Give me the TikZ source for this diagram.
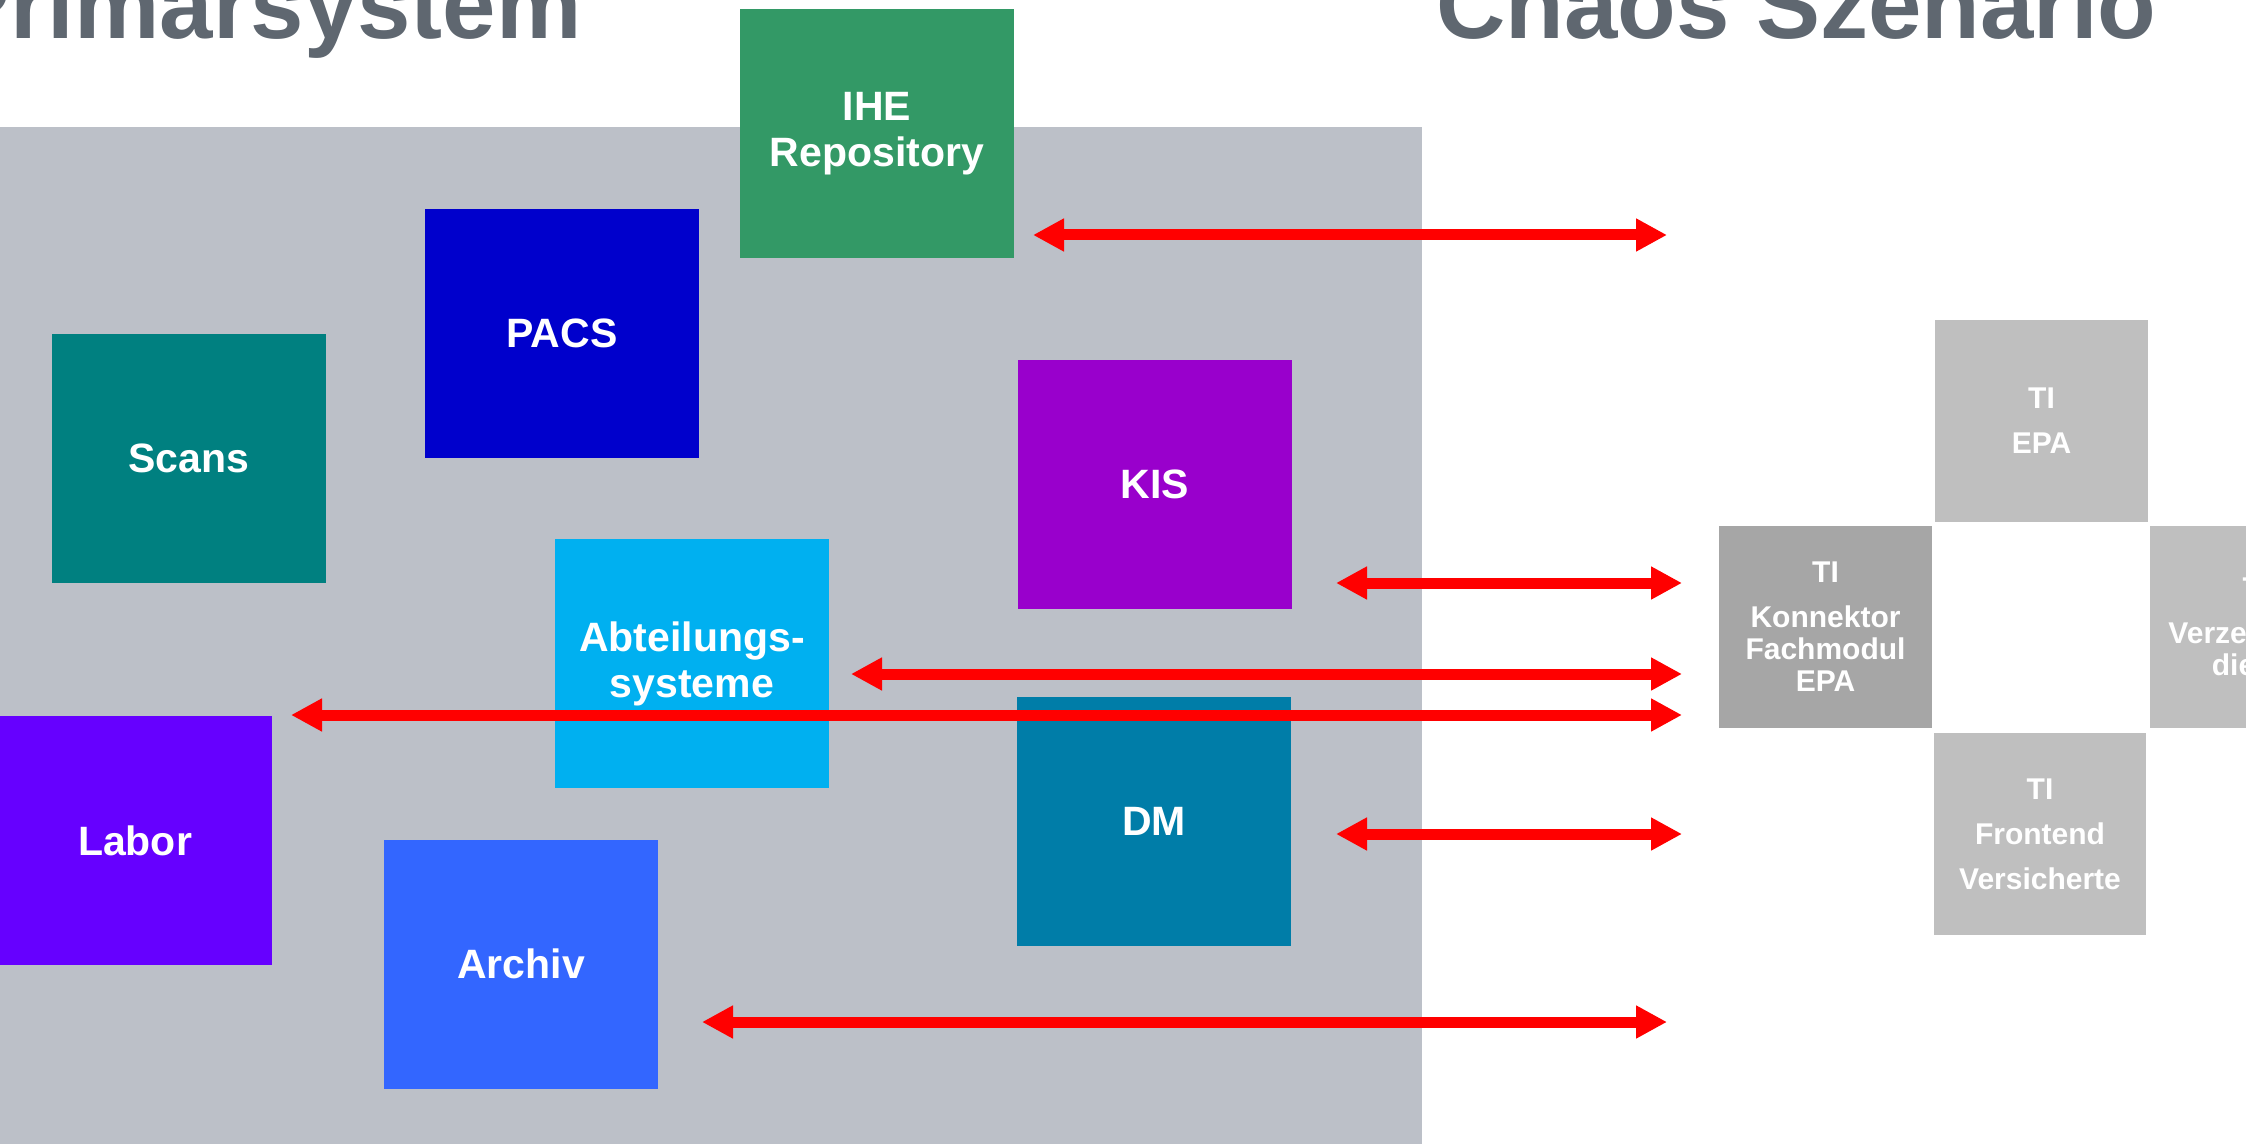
\documentclass[tikz,border=0pt]{standalone}
\usepackage{fontspec}
\setmainfont{Liberation Sans}
\usetikzlibrary{arrows.meta}
\definecolor{bggray}{RGB}{188,192,200}
\definecolor{cihe}{RGB}{51,153,102}
\definecolor{cpacs}{RGB}{0,0,204}
\definecolor{cscans}{RGB}{0,128,128}
\definecolor{ckis}{RGB}{153,0,204}
\definecolor{cabt}{RGB}{0,176,240}
\definecolor{cdm}{RGB}{0,125,168}
\definecolor{clabor}{RGB}{102,0,255}
\definecolor{carchiv}{RGB}{51,102,255}
\definecolor{tilight}{RGB}{191,191,191}
\definecolor{tidark}{RGB}{166,166,166}
\definecolor{titlegray}{RGB}{95,103,112}
\begin{document}
\begin{tikzpicture}[x=0.5pt,y=-0.5pt,
  sysbox/.style={rectangle,inner sep=0pt,minimum width=137pt,minimum height=124.5pt,
    text=white,align=center,font=\fontsize{20.5pt}{23pt}\selectfont\bfseries},
  tibox/.style={rectangle,inner sep=0pt,minimum width=107pt,minimum height=102pt,
    text=white,align=center,draw=white,line width=0.6pt,
    font=\fontsize{15pt}{16pt}\selectfont\bfseries},
  titletext/.style={inner sep=0pt,text=titlegray,font=\fontsize{48pt}{50pt}\selectfont\bfseries},
  link/.style={draw=red,line width=5.5pt,>={Triangle[length=15.5pt,width=15.5pt]},<->}
]
\useasboundingbox (0,0) rectangle (2246,1144);
\clip (0,0) rectangle (2246,1144);
\fill[white] (0,0) rectangle (2246,1144);
% gray area
\fill[bggray] (0,127) rectangle (1422,1144);
% titles
\node[titletext,anchor=base east] (t1) at (582,39) {Primarsystem};
\node[titletext,anchor=base west] (t2) at (1436,39) {Chaos Szenario};
% systems
\node[sysbox,fill=cihe] (ihe) at (877,133.5) {IHE\\Repository};
\node[sysbox,fill=cpacs] (pacs) at (562,333.5) {PACS};
\node[sysbox,fill=cscans] (scans) at (188.5,458.5) {Scans};
\node[sysbox,fill=ckis] (kis) at (1155,484.5) {KIS};
\node[sysbox,fill=cabt] (abt) at (692,663.5) {Abteilungs-\\systeme};
\node[sysbox,fill=cdm] (dm) at (1154,821.5) {DM};
\node[sysbox,fill=clabor] (labor) at (135,840.5) {Labor};
\node[sysbox,fill=carchiv] (archiv) at (521,964) {Archiv};
% TI boxes
\node[tibox,fill=tilight] (tiepa) at (2041.5,421) {TI\\[6.5pt]EPA};
\node[tibox,fill=tidark] (konn) at (1825.5,627) {TI\\[6.5pt]Konnektor\\Fachmodul\\EPA};
\node[tibox,fill=tilight] (verz) at (2256,627) {TI\\[6.5pt]Verzeichnis-\\dienst};
\node[tibox,fill=tilight] (front) at (2040,834) {TI\\[6.5pt]Frontend\\[6.5pt]Versicherte};
% arrow end points
\coordinate (a1l) at (1033,235);  \coordinate (a1r) at (1667,235);
\coordinate (a2l) at (1336,583);  \coordinate (a2r) at (1682,583);
\coordinate (a3l) at (851,674);   \coordinate (a3r) at (1682,674);
\coordinate (a4l) at (291,715);   \coordinate (a4r) at (1682,715);
\coordinate (a5l) at (1336,834);  \coordinate (a5r) at (1682,834);
\coordinate (a6l) at (702,1022);  \coordinate (a6r) at (1667,1022);
\draw[link] (a1l) -- (a1r);
\draw[link] (a2l) -- (a2r);
\draw[link] (a3l) -- (a3r);
\draw[link] (a4l) -- (a4r);
\draw[link] (a5l) -- (a5r);
\draw[link] (a6l) -- (a6r);
\end{tikzpicture}
\end{document}
